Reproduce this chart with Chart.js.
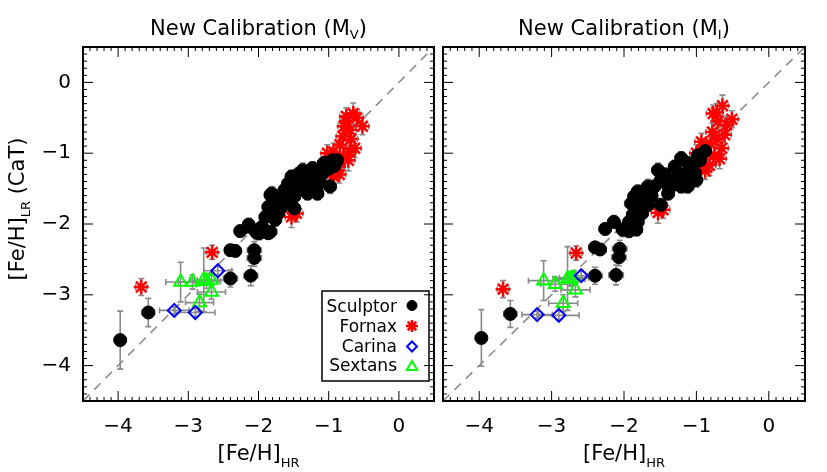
<!DOCTYPE html>
<html>
<head>
<meta charset="utf-8">
<script src="https://cdn.jsdelivr.net/npm/chart.js@4/dist/chart.umd.min.js"></script>
<style>
body { margin: 0; background: #fff; }
#wrap { position: relative; width: 827px; height: 472px; }
.panel { position: absolute; top: 0; height: 472px; }
#pV { left: 0; width: 444px; }
#pI { left: 433px; width: 394px; }
</style>
</head>
<body>
<div id="wrap">
  <div class="panel" id="pV"><canvas id="chartV"></canvas></div>
  <div class="panel" id="pI"><canvas id="chartI"></canvas></div>
</div>
<script>
// axes
const axisMin = -4.5, axisMax = 0.5;
const xTickVals = [-4, -3, -2, -1, 0];
const yTickVals = [-4, -3, -2, -1, 0];
const oneToOne = [-4.5, 0.5];
const legendNames = ['Sculptor', 'Fornax', 'Carina', 'Sextans'];

// rows: [Fe/H]_HR, [Fe/H]_LR, err x, err y
const sculptorV = [
  [-3.97, -3.64, 0.08, 0.41], [-3.57, -3.25, 0.09, 0.20], [-2.40, -2.77, 0.10, 0.12],
  [-2.11, -2.73, 0.10, 0.14], [-2.06, -2.48, 0.10, 0.12], [-2.06, -2.37, 0.10, 0.12],
  [-2.40, -2.37, 0.08, 0.08], [-2.33, -2.38, 0.08, 0.08], [-2.26, -2.10, 0.08, 0.08],
  [-2.14, -2.01, 0.08, 0.09], [-2.03, -2.12, 0.08, 0.10], [-1.94, -2.11, 0.08, 0.08],
  [-1.83, -2.11, 0.09, 0.08], [-1.95, -2.04, 0.08, 0.09], [-2.13, -2.04, 0.08, 0.08],
  [-1.99, -2.13, 0.08, 0.09], [-1.86, -2.13, 0.08, 0.08], [-1.90, -1.90, 0.09, 0.10],
  [-1.76, -1.94, 0.08, 0.09], [-1.86, -1.76, 0.08, 0.09], [-1.67, -1.76, 0.08, 0.10],
  [-1.49, -1.78, 0.08, 0.09], [-1.81, -1.57, 0.09, 0.10], [-1.69, -1.61, 0.08, 0.09],
  [-1.63, -1.52, 0.08, 0.09], [-1.49, -1.61, 0.08, 0.09], [-1.58, -1.43, 0.08, 0.10],
  [-1.53, -1.33, 0.08, 0.09], [-1.39, -1.47, 0.08, 0.09], [-1.30, -1.57, 0.09, 0.09],
  [-1.16, -1.57, 0.08, 0.09], [-1.25, -1.38, 0.08, 0.09], [-1.37, -1.24, 0.08, 0.10],
  [-1.23, -1.21, 0.08, 0.09], [-1.16, -1.24, 0.08, 0.09], [-0.98, -1.47, 0.08, 0.10],
  [-1.07, -1.14, 0.08, 0.09], [-0.88, -1.10, 0.08, 0.09], [-0.95, -1.10, 0.08, 0.09],
  [-1.12, -1.42, 0.08, 0.09], [-1.21, -1.52, 0.08, 0.09], [-1.30, -1.28, 0.08, 0.09],
  [-1.46, -1.47, 0.08, 0.09], [-1.72, -1.85, 0.08, 0.09], [-1.83, -1.59, 0.08, 0.09],
  [-1.02, -1.14, 0.08, 0.09], [-1.44, -1.30, 0.08, 0.09], [-1.35, -1.36, 0.08, 0.09],
  [-1.10, -1.30, 0.08, 0.10], [-1.00, -1.22, 0.08, 0.09], [-1.60, -1.68, 0.08, 0.09],
  [-1.75, -1.70, 0.08, 0.09], [-1.27, -1.44, 0.08, 0.09], [-0.92, -1.18, 0.08, 0.09]
];
const fornaxV = [
  [-3.67, -2.89, 0.08, 0.12], [-2.66, -2.40, 0.08, 0.10], [-1.53, -1.90, 0.09, 0.15],
  [-1.46, -1.85, 0.09, 0.12], [-0.65, -0.44, 0.09, 0.15], [-0.75, -0.55, 0.09, 0.12],
  [-0.52, -0.62, 0.09, 0.12], [-0.70, -0.67, 0.09, 0.12], [-0.63, -0.93, 0.09, 0.13],
  [-0.93, -0.98, 0.09, 0.12], [-0.79, -1.05, 0.09, 0.12], [-0.86, -1.19, 0.09, 0.14],
  [-0.98, -1.28, 0.09, 0.12], [-0.72, -1.10, 0.09, 0.15], [-0.84, -0.88, 0.09, 0.12],
  [-0.93, -1.33, 0.09, 0.12], [-0.75, -0.48, 0.09, 0.12], [-0.88, -1.24, 0.09, 0.12],
  [-1.02, -1.00, 0.09, 0.12], [-0.80, -0.76, 0.09, 0.12], [-0.90, -1.15, 0.09, 0.12],
  [-0.68, -0.80, 0.09, 0.13], [-0.60, -0.50, 0.09, 0.12], [-0.78, -0.62, 0.09, 0.12],
  [-0.95, -1.05, 0.09, 0.12], [-0.85, -1.30, 0.09, 0.12], [-0.70, -0.98, 0.09, 0.14]
];
const carinaV = [
  [-3.20, -3.22, 0.21, 0.05], [-2.90, -3.25, 0.28, 0.06], [-2.58, -2.66, 0.20, 0.06]
];
const sextansV = [
  [-3.11, -2.82, 0.21, 0.28], [-2.94, -2.82, 0.20, 0.10], [-2.78, -2.79, 0.20, 0.45],
  [-2.74, -2.81, 0.20, 0.10], [-2.67, -2.79, 0.20, 0.10], [-2.67, -2.96, 0.20, 0.10],
  [-2.84, -3.11, 0.20, 0.12]
];

const sculptorI = [
  [-3.97, -3.61, 0.08, 0.40], [-3.57, -3.27, 0.09, 0.19], [-2.40, -2.73, 0.10, 0.12],
  [-2.11, -2.72, 0.10, 0.14], [-2.07, -2.47, 0.10, 0.12], [-2.06, -2.35, 0.10, 0.12],
  [-2.40, -2.33, 0.08, 0.08], [-2.33, -2.36, 0.08, 0.08], [-2.26, -2.07, 0.08, 0.08],
  [-2.14, -1.97, 0.08, 0.09], [-2.02, -2.08, 0.08, 0.10], [-1.83, -2.08, 0.08, 0.08],
  [-1.93, -2.10, 0.08, 0.09], [-1.93, -1.97, 0.08, 0.09], [-1.81, -1.97, 0.08, 0.09],
  [-1.88, -1.87, 0.08, 0.09], [-1.76, -1.75, 0.08, 0.10], [-1.67, -1.73, 0.08, 0.09],
  [-1.49, -1.73, 0.08, 0.09], [-1.90, -1.71, 0.09, 0.10], [-1.86, -1.61, 0.08, 0.09],
  [-1.72, -1.61, 0.08, 0.09], [-1.81, -1.54, 0.08, 0.09], [-1.67, -1.47, 0.08, 0.10],
  [-1.58, -1.47, 0.08, 0.09], [-1.49, -1.38, 0.08, 0.09], [-1.53, -1.24, 0.08, 0.10],
  [-1.39, -1.57, 0.08, 0.09], [-1.35, -1.47, 0.08, 0.09], [-1.30, -1.38, 0.08, 0.09],
  [-1.16, -1.38, 0.08, 0.09], [-1.21, -1.47, 0.08, 0.09], [-1.12, -1.47, 0.08, 0.09],
  [-1.00, -1.38, 0.08, 0.10], [-1.02, -1.28, 0.08, 0.09], [-1.25, -1.28, 0.08, 0.09],
  [-1.30, -1.19, 0.08, 0.09], [-1.12, -1.14, 0.08, 0.09], [-1.21, -1.07, 0.08, 0.09],
  [-0.98, -1.03, 0.08, 0.09], [-0.88, -0.97, 0.08, 0.09], [-1.44, -1.30, 0.08, 0.09],
  [-1.10, -1.25, 0.08, 0.09], [-1.40, -1.45, 0.08, 0.10], [-1.62, -1.60, 0.08, 0.09],
  [-1.75, -1.85, 0.08, 0.09], [-0.95, -1.10, 0.08, 0.09], [-1.05, -1.18, 0.08, 0.09]
];
const fornaxI = [
  [-3.67, -2.92, 0.08, 0.12], [-2.66, -2.41, 0.08, 0.10], [-1.53, -1.84, 0.09, 0.15],
  [-1.46, -1.80, 0.09, 0.12], [-0.64, -0.33, 0.08, 0.15], [-0.77, -0.44, 0.09, 0.12],
  [-0.51, -0.52, 0.09, 0.12], [-0.70, -0.55, 0.09, 0.12], [-0.61, -0.74, 0.09, 0.12],
  [-0.65, -0.93, 0.09, 0.13], [-0.93, -0.84, 0.09, 0.12], [-0.86, -1.00, 0.09, 0.12],
  [-0.98, -1.19, 0.09, 0.14], [-0.82, -1.17, 0.09, 0.15], [-0.75, -1.03, 0.09, 0.12],
  [-1.00, -1.00, 0.09, 0.12], [-0.80, -0.87, 0.09, 0.12], [-0.72, -0.42, 0.09, 0.12],
  [-0.58, -0.60, 0.09, 0.12], [-0.90, -0.92, 0.09, 0.12], [-0.72, -0.80, 0.09, 0.13],
  [-0.95, -1.10, 0.09, 0.12], [-0.88, -1.25, 0.09, 0.12], [-0.68, -1.08, 0.09, 0.14],
  [-0.78, -0.70, 0.09, 0.12]
];
const carinaI = [
  [-3.20, -3.28, 0.21, 0.05], [-2.90, -3.29, 0.28, 0.06], [-2.59, -2.73, 0.20, 0.06]
];
const sextansI = [
  [-3.11, -2.80, 0.21, 0.28], [-2.95, -2.85, 0.20, 0.10], [-2.78, -2.77, 0.20, 0.45],
  [-2.74, -2.78, 0.20, 0.10], [-2.69, -2.76, 0.20, 0.10], [-2.67, -2.93, 0.20, 0.10],
  [-2.84, -3.12, 0.20, 0.12]
];

const FONT = '"DejaVu Sans", sans-serif';
const styles = {
  Sculptor: { pointStyle: 'circle', radius: 6.5, fill: '#000', stroke: '#000', bw: 1 },
  Fornax: { pointStyle: 'star', radius: 7.5, fill: '#ff0000', stroke: '#ff0000', bw: 2.5 },
  Carina: { pointStyle: 'rectRot', radius: 6.5, fill: 'rgba(0,0,0,0)', stroke: '#0000ff', bw: 2 },
  Sextans: { pointStyle: 'triangle', radius: 7.5, fill: 'rgba(0,0,0,0)', stroke: '#00ff00', bw: 2 }
};

function series(name, rows, order) {
  const s = styles[name];
  return {
    label: name,
    data: rows.map(r => ({ x: r[0], y: r[1] })),
    err: rows.map(r => [r[2], r[3]]),
    pointStyle: s.pointStyle,
    pointRadius: s.radius,
    pointBackgroundColor: s.fill,
    pointBorderColor: s.stroke,
    pointBorderWidth: s.bw,
    order: order
  };
}

function fmt(v) {
  return String(v).replace('-', '\u2212');
}

// text with subscripts: parts = [text, size, dy]
function richText(ctx, parts, x, y) {
  let w = 0;
  parts.forEach(p => { ctx.font = p[1] + 'px ' + FONT; w += ctx.measureText(p[0]).width; });
  let cx = x - w / 2;
  parts.forEach(p => {
    ctx.font = p[1] + 'px ' + FONT;
    ctx.fillText(p[0], cx, y + p[2]);
    cx += ctx.measureText(p[0]).width;
  });
}

const errorBars = {
  id: 'errorBars',
  beforeDatasetsDraw(chart) {
    const { ctx, chartArea: a, scales: { x, y } } = chart;
    ctx.save();
    ctx.beginPath();
    ctx.rect(a.left, a.top, a.width, a.height);
    ctx.clip();
    ctx.strokeStyle = '#8a8a8a';
    ctx.lineWidth = 1.6;
    chart.data.datasets.forEach(ds => {
      if (!ds.err) return;
      ds.data.forEach((p, i) => {
        const [ex, ey] = ds.err[i];
        const px = x.getPixelForValue(p.x), py = y.getPixelForValue(p.y);
        const x0 = x.getPixelForValue(p.x - ex), x1 = x.getPixelForValue(p.x + ex);
        const y0 = y.getPixelForValue(p.y - ey), y1 = y.getPixelForValue(p.y + ey);
        ctx.beginPath();
        ctx.moveTo(x0, py); ctx.lineTo(x1, py);
        ctx.moveTo(x0, py - 3); ctx.lineTo(x0, py + 3);
        ctx.moveTo(x1, py - 3); ctx.lineTo(x1, py + 3);
        ctx.moveTo(px, y0); ctx.lineTo(px, y1);
        ctx.moveTo(px - 3, y0); ctx.lineTo(px + 3, y0);
        ctx.moveTo(px - 3, y1); ctx.lineTo(px + 3, y1);
        ctx.stroke();
      });
    });
    ctx.restore();
  }
};

const frame = {
  id: 'frame',
  afterDatasetsDraw(chart) {
    const { ctx, chartArea: a, scales: { x, y } } = chart;
    ctx.save();
    ctx.strokeStyle = '#000';
    ctx.lineWidth = 1;
    ctx.beginPath();
    for (let i = -45; i <= 5; i++) {
      const v = i / 10, len = i % 10 === 0 ? 10 : 4;
      const px = x.getPixelForValue(v), py = y.getPixelForValue(v);
      ctx.moveTo(px, a.bottom); ctx.lineTo(px, a.bottom - len);
      ctx.moveTo(px, a.top); ctx.lineTo(px, a.top + len);
      ctx.moveTo(a.left, py); ctx.lineTo(a.left + len, py);
      ctx.moveTo(a.right, py); ctx.lineTo(a.right - len, py);
    }
    ctx.stroke();
    ctx.lineWidth = 2;
    ctx.strokeRect(a.left, a.top, a.width, a.height);
    ctx.restore();
  }
};

const labels = {
  id: 'labels',
  afterDraw(chart, args, opts) {
    const { ctx, chartArea: a } = chart;
    const cx = (a.left + a.right) / 2;
    ctx.save();
    ctx.fillStyle = '#000';
    ctx.textBaseline = 'alphabetic';
    richText(ctx, [['New Calibration (M', 21, 0], [opts.band, 13, 4], [')', 21, 0]], cx, 35);
    richText(ctx, [['[Fe/H]', 21, 0], ['HR', 13, 7]], cx, 460);
    if (opts.yTitle) {
      ctx.save();
      ctx.translate(24, 209);
      ctx.rotate(-Math.PI / 2);
      richText(ctx, [['[Fe/H]', 21, 0], ['LR', 13, 6], [' (CaT)', 21, 0]], 0, 0);
      ctx.restore();
    }
    if (opts.legend) {
      ctx.lineWidth = 1.5;
      ctx.strokeStyle = '#000';
      ctx.strokeRect(322, 291, 107, 90);
      ctx.font = '17px ' + FONT;
      ctx.textAlign = 'right';
      legendNames.forEach((name, i) => {
        const s = styles[name];
        ctx.fillStyle = '#000';
        ctx.fillText(name, 397, 312 + i * 19.8);
        ctx.fillStyle = s.fill;
        ctx.strokeStyle = s.stroke;
        ctx.lineWidth = s.bw;
        Chart.helpers.drawPoint(ctx, { pointStyle: s.pointStyle, radius: s.radius - 1.5, borderWidth: s.bw, rotation: 0 }, 412, 305.5 + i * 20.5);
      });
    }
    ctx.restore();
  }
};

function makeChart(id, sets, band, showY) {
  const tickFont = { family: FONT, size: 20 };
  const yScale = {
    type: 'linear', min: axisMin, max: axisMax, display: showY,
    afterBuildTicks: s => { s.ticks = yTickVals.map(v => ({ value: v })); },
    grid: { display: false, drawTicks: false }, border: { display: false },
    ticks: { color: '#000', font: tickFont, padding: 12, callback: fmt }
  };
  if (showY) yScale.afterFit = s => { s.width = 83; };
  return new Chart(document.getElementById(id), {
    type: 'scatter',
    data: {
      datasets: [
        {
          label: '1:1', data: oneToOne.map(v => ({ x: v, y: v })), showLine: true,
          borderColor: '#8c8c8c', borderWidth: 1.6, borderDash: [9, 7], pointRadius: 0, order: 10
        },
        ...sets
      ]
    },
    options: {
      responsive: true,
      maintainAspectRatio: false,
      devicePixelRatio: 1,
      animation: false,
      events: [],
      layout: { padding: showY ? { top: 47, right: 1, left: 0, bottom: 0 } : { top: 47, right: 22, left: 10, bottom: 0 } },
      plugins: {
        legend: { display: false },
        tooltip: { enabled: false },
        labels: { band: band, yTitle: showY, legend: showY }
      },
      scales: {
        x: {
          type: 'linear', min: axisMin, max: axisMax,
          afterBuildTicks: s => { s.ticks = xTickVals.map(v => ({ value: v })); },
          afterFit: s => { s.height = 71; },
          grid: { display: false, drawTicks: false }, border: { display: false },
          ticks: { color: '#000', font: tickFont, padding: 14, maxRotation: 0, autoSkip: false, callback: fmt }
        },
        y: yScale
      }
    },
    plugins: [errorBars, frame, labels]
  });
}

makeChart('chartV', [
  series('Fornax', fornaxV, 3), series('Sculptor', sculptorV, 2),
  series('Sextans', sextansV, 1), series('Carina', carinaV, 0)
], 'V', true);

makeChart('chartI', [
  series('Fornax', fornaxI, 3), series('Sculptor', sculptorI, 2),
  series('Sextans', sextansI, 1), series('Carina', carinaI, 0)
], 'I', false);
</script>
</body>
</html>
